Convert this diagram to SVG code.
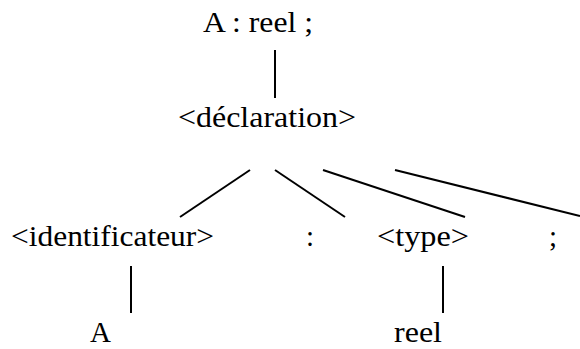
<svg xmlns="http://www.w3.org/2000/svg" width="580" height="349" viewBox="0 0 580 349">
<rect width="580" height="349" fill="#fff"/>
<g id="connectors" stroke="#000" stroke-width="2">
<line x1="275" y1="50" x2="275" y2="98"/>
<line x1="250" y1="170" x2="180" y2="217"/>
<line x1="275" y1="170" x2="345" y2="217"/>
<line x1="323" y1="170" x2="465" y2="217"/>
<line x1="395" y1="170" x2="580" y2="216"/>
<line x1="131" y1="266" x2="131" y2="313"/>
<line x1="443" y1="266" x2="443" y2="313"/>
</g>
<g id="root"><text x="203" y="32" font-family="Liberation Serif, serif" font-size="29" textLength="110" lengthAdjust="spacingAndGlyphs">A : reel ;</text></g>
<g id="declaration"><text x="178" y="127" font-family="Liberation Serif, serif" font-size="29" textLength="178" lengthAdjust="spacingAndGlyphs">&lt;déclaration&gt;</text></g>
<g id="identificateur"><text x="11" y="246" font-family="Liberation Serif, serif" font-size="29" textLength="203" lengthAdjust="spacingAndGlyphs">&lt;identificateur&gt;</text></g>
<g id="colon"><text x="310" y="246" font-family="Liberation Serif, serif" font-size="29" text-anchor="middle">:</text></g>
<g id="type"><text x="377" y="246" font-family="Liberation Serif, serif" font-size="29" textLength="92" lengthAdjust="spacingAndGlyphs">&lt;type&gt;</text></g>
<g id="semicolon"><text x="553" y="246" font-family="Liberation Serif, serif" font-size="29" text-anchor="middle">;</text></g>
<g id="leafA"><text x="90" y="342" font-family="Liberation Serif, serif" font-size="29">A</text></g>
<g id="leafReel"><text x="394" y="342" font-family="Liberation Serif, serif" font-size="29" textLength="48" lengthAdjust="spacingAndGlyphs">reel</text></g>
</svg>
